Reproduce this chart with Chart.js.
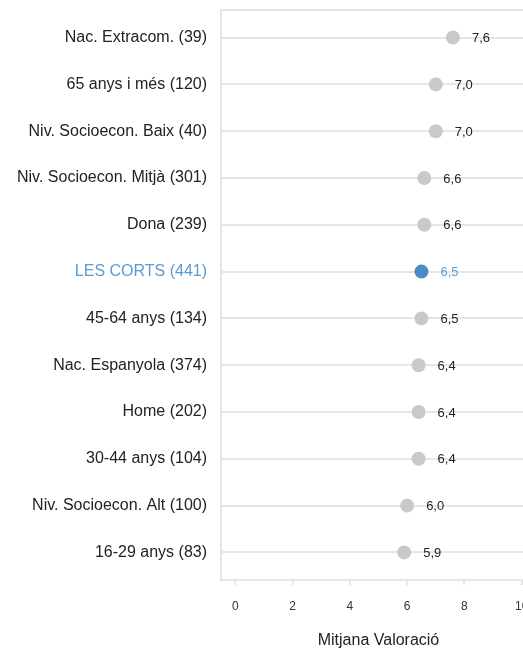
<!DOCTYPE html>
<html>
<head>
<meta charset="utf-8">
<script src="https://cdn.jsdelivr.net/npm/chart.js@4/dist/chart.umd.min.js"></script>
<style>
  html, body { margin: 0; padding: 0; background: #fff; overflow: hidden; }
  #wrap { position: relative; width: 545px; height: 655px; }
</style>
</head>
<body>
<div id="wrap"><canvas id="c"></canvas></div>
<script>
// Mean rating per group (top to bottom)
const categories = [
  'Nac. Extracom. (39)',
  '65 anys i més (120)',
  'Niv. Socioecon. Baix (40)',
  'Niv. Socioecon. Mitjà (301)',
  'Dona (239)',
  'LES CORTS (441)',
  '45-64 anys (134)',
  'Nac. Espanyola (374)',
  'Home (202)',
  '30-44 anys (104)',
  'Niv. Socioecon. Alt (100)',
  '16-29 anys (83)'
];
const values = [7.6, 7.0, 7.0, 6.6, 6.6, 6.5, 6.5, 6.4, 6.4, 6.4, 6.0, 5.9];
const xTicks = [0, 2, 4, 6, 8, 10];
const highlighted = 'LES CORTS (441)';

const GREY = '#c9c9c9';
const BLUE = '#4a8bc6';
const BLUE_TEXT = '#5b9bd3';
const GRID = '#e6e6e6';
const FONT = "'Liberation Sans', Arial, sans-serif";

const hi = categories.indexOf(highlighted);
const fmt = v => v.toFixed(1).replace('.', ',');

// Value labels to the right of each dot
const valueLabels = {
  id: 'valueLabels',
  afterDatasetsDraw(chart) {
    const ctx = chart.ctx;
    const meta = chart.getDatasetMeta(0);
    ctx.save();
    ctx.font = '13px ' + FONT;
    ctx.textBaseline = 'middle';
    ctx.textAlign = 'left';
    meta.data.forEach((pt, i) => {
      ctx.fillStyle = i === hi ? BLUE_TEXT : '#222';
      ctx.fillText(fmt(values[i]), pt.x + 19, pt.y + 1);
    });
    ctx.restore();
  }
};

// Top edge of the plotting frame
const frameTop = {
  id: 'frameTop',
  beforeDatasetsDraw(chart) {
    const { ctx, chartArea: a } = chart;
    ctx.save();
    ctx.strokeStyle = GRID;
    ctx.lineWidth = 2;
    ctx.beginPath();
    ctx.moveTo(a.left, a.top);
    ctx.lineTo(a.right, a.top);
    ctx.stroke();
    ctx.restore();
  }
};

new Chart(document.getElementById('c'), {
  type: 'scatter',
  data: {
    datasets: [{
      data: values.map((v, i) => ({ x: v, y: i })),
      pointRadius: 7,
      pointHoverRadius: 7,
      pointBorderWidth: 0,
      pointBackgroundColor: values.map((_, i) => i === hi ? BLUE : GREY),
      pointBorderColor: values.map((_, i) => i === hi ? BLUE : GREY)
    }]
  },
  options: {
    responsive: true,
    maintainAspectRatio: false,
    animation: false,
    layout: { padding: { top: 10, right: 9, bottom: 1, left: 0 } },
    plugins: { legend: { display: false }, tooltip: { enabled: false } },
    scales: {
      x: {
        type: 'linear',
        min: -0.5,
        max: 10.5,
        afterBuildTicks: s => { s.ticks = xTicks.map(v => ({ value: v })); },
        afterFit: s => { s.height = 74; s.paddingLeft = 0; s.paddingRight = 0; },
        grid: { drawOnChartArea: false, drawTicks: true, tickLength: 5, color: GRID, lineWidth: 2 },
        border: { display: true, color: GRID, width: 2 },
        ticks: { color: '#333', font: { family: FONT, size: 12 }, padding: 14, maxRotation: 0 },
        title: { display: true, text: 'Mitjana Valoració', color: '#222', font: { family: FONT, size: 16 } }
      },
      y: {
        type: 'linear',
        reverse: true,
        min: -0.59,
        max: 11.59,
        afterBuildTicks: s => { s.ticks = categories.map((_, i) => ({ value: i })); },
        afterFit: s => { s.width = 221; s.paddingTop = 0; s.paddingBottom = 0; },
        grid: { drawTicks: false, color: GRID, lineWidth: 2 },
        border: { display: true, color: GRID, width: 2 },
        ticks: {
          padding: 14,
          font: { family: FONT, size: 16 },
          color: ctx => ctx.index === hi ? BLUE_TEXT : '#222',
          callback: (v, i) => categories[i]
        }
      }
    }
  },
  plugins: [frameTop, valueLabels]
});
</script>
</body>
</html>
